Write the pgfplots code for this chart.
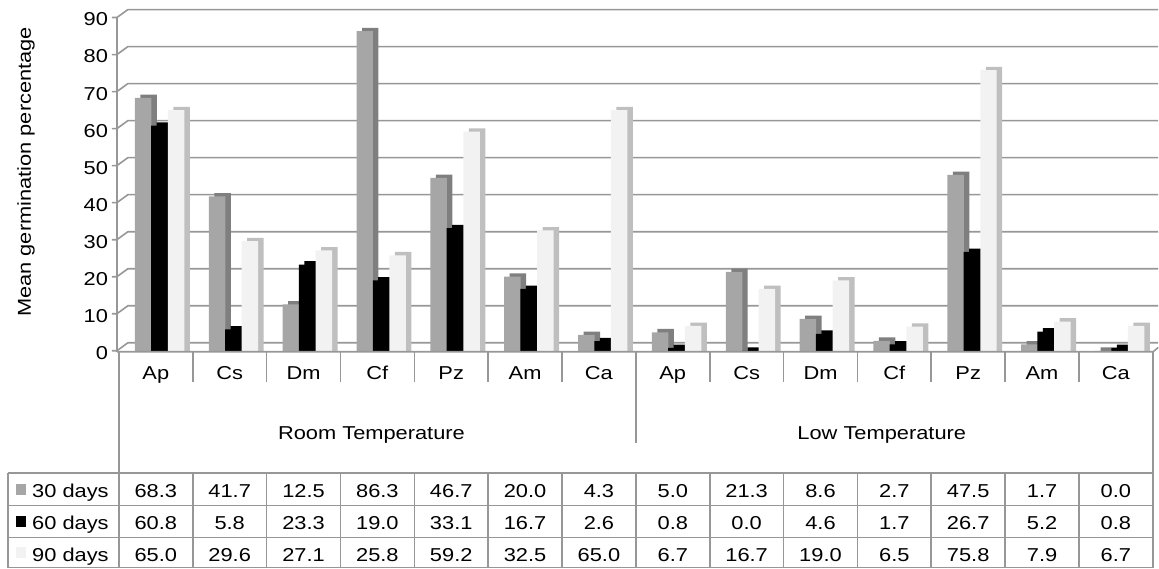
\documentclass[border=0pt]{standalone}
\usepackage{pgfplots}
\usepackage{pgfplotstable}
\pgfplotsset{compat=1.18}
\usepackage{fontspec}
\setmainfont{Liberation Sans}[FakeStretch=1.17]
\newcommand{\fnt}{\fontsize{14}{16}\selectfont}
\definecolor{gA}{HTML}{A6A6A6}
\definecolor{gAs}{HTML}{7F7F7F}
\definecolor{gC}{HTML}{F2F2F2}
\definecolor{gCs}{HTML}{BFBFBF}
\definecolor{gridc}{HTML}{979797}
\pgfplotstableread{
x cat v30 v60 v90
0 Ap 68.3 60.8 65.0
1 Cs 41.7 5.8 29.6
2 Dm 12.5 23.3 27.1
3 Cf 86.3 19.0 25.8
4 Pz 46.7 33.1 59.2
5 Am 20.0 16.7 32.5
6 Ca 4.3 2.6 65.0
7 Ap 5.0 0.8 6.7
8 Cs 21.3 0.0 16.7
9 Dm 8.6 4.6 19.0
10 Cf 2.7 1.7 6.5
11 Pz 47.5 26.7 75.8
12 Am 1.7 5.2 7.9
13 Ca 0.0 0.8 6.7
}\data
\begin{document}
\begin{tikzpicture}
\begin{axis}[
  x=55.425pt, y=2.77875pt,
  xmin=0, xmax=14, ymin=0, ymax=90,
  clip=false,
  axis line style={draw=none},
  xtick=\empty,
  ytick={0,10,...,90},
  major tick length=0pt,
  tick label style={font=\fnt},
  /pgf/number format/assume math mode=true,
  yticklabel style={anchor=east, inner sep=0pt, xshift=-8pt, yshift=-1.5pt},
  bar width=12.375pt,
  txt/.style={draw=none, mark=none, nodes near coords, point meta=explicit symbolic,
    every node near coord/.append style={anchor=base, font=\fnt, text=black, inner sep=0pt}},
]
% page box
\path (axis cs:-1.610,94.74) rectangle (axis cs:14.073,-58.84);
% back wall gridlines and left wall
\pgfplotsinvokeforeach{0,10,...,90}{
  \draw[gridc, line width=1.2pt] (axis cs:-0.0947,#1) -- (axis cs:-0.0271,#1) -- (axis cs:0.1218,#1+2.159) -- (axis cs:14.073,#1+2.159);
}
\draw[gridc, line width=1.2pt] (axis cs:-0.0271,-0.27) -- (axis cs:-0.0271,90);
% bars: 30 days
\addplot[ybar, bar shift=0pt, fill=gAs, draw=none] table[x expr=\thisrow{x}+0.329+0.0744, y expr=\thisrow{v30}+0.89] {\data};
\addplot[ybar, bar shift=0pt, fill=gA, draw=none] table[x expr=\thisrow{x}+0.329, y=v30] {\data};
% 60 days
\addplot[ybar, bar shift=0pt, fill=black, draw=none] table[x expr=\thisrow{x}+0.549+0.0744, y expr=\thisrow{v60}+0.89] {\data};
\addplot[ybar, bar shift=0pt, fill=black, draw=none] table[x expr=\thisrow{x}+0.549, y=v60] {\data};
% 90 days
\addplot[ybar, bar shift=0pt, fill=gCs, draw=none] table[x expr=\thisrow{x}+0.775+0.0744, y expr=\thisrow{v90}+0.89] {\data};
\addplot[ybar, bar shift=0pt, fill=gC, draw=none] table[x expr=\thisrow{x}+0.775, y=v90] {\data};
% floor front edge
\draw[gridc, line width=1.2pt] (axis cs:-0.0271,-0.27) -- (axis cs:14.005,-0.27) -- (axis cs:14.073,0.9);
% data table lines
\draw[gridc, line width=1.2pt] (axis cs:0,-0.27) -- (axis cs:0,-58.57);
\draw[gridc, line width=1.2pt] (axis cs:14.005,-0.27) -- (axis cs:14.005,-58.57);
\draw[gridc, line width=1.2pt] (axis cs:7,-0.27) -- (axis cs:7,-24.83);
\pgfplotsinvokeforeach{1,...,13}{
  \draw[gridc, line width=1.2pt] (axis cs:#1,-0.27) -- (axis cs:#1,-8.367);
  \draw[gridc, line width=1.2pt] (axis cs:#1,-32.93) -- (axis cs:#1,-58.57);
}
\pgfplotsinvokeforeach{-32.93,-41.83,-50.47,-58.57}{
  \draw[gridc, line width=1.2pt] (axis cs:-1.502,#1) -- (axis cs:14.005,#1);
}
\draw[gridc, line width=1.2pt] (axis cs:-1.502,-32.93) -- (axis cs:-1.502,-58.57);
% table text
\addplot[txt] table[x expr=\thisrow{x}+0.5, y expr=-7.83, meta=cat] {\data};
\addplot[txt] table[x expr=\thisrow{x}+0.5, y expr=-39.68, meta=v30] {\data};
\addplot[txt] table[x expr=\thisrow{x}+0.5, y expr=-48.31, meta=v60] {\data};
\addplot[txt] table[x expr=\thisrow{x}+0.5, y expr=-56.82, meta=v90] {\data};
\node[font=\fnt, anchor=base] at (axis cs:3.42,-24.02) {Room Temperature};
\node[font=\fnt, anchor=base] at (axis cs:10.33,-24.02) {Low Temperature};
% legend keys
\fill[gA] (axis cs:-1.398,-35.90) rectangle (axis cs:-1.258,-38.87);
\fill[black] (axis cs:-1.398,-44.67) rectangle (axis cs:-1.258,-47.64);
\fill[gC] (axis cs:-1.398,-53.04) rectangle (axis cs:-1.258,-56.0);
\node[font=\fnt, anchor=base west, inner sep=0pt] at (axis cs:-1.177,-39.68) {30 days};
\node[font=\fnt, anchor=base west, inner sep=0pt] at (axis cs:-1.177,-48.31) {60 days};
\node[font=\fnt, anchor=base west, inner sep=0pt] at (axis cs:-1.177,-56.82) {90 days};
% y label
\node[font=\fnt, rotate=90] at (axis cs:-1.258,48.31) {Mean germination percentage};
\end{axis}
\end{tikzpicture}
\end{document}
